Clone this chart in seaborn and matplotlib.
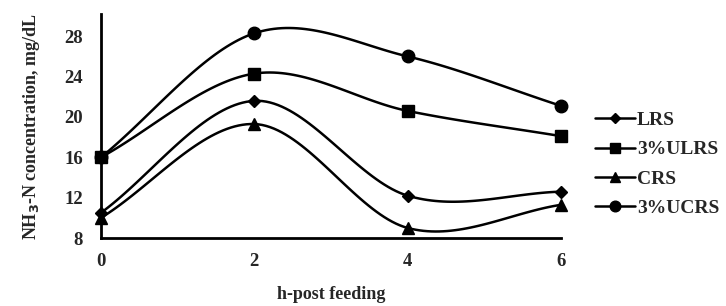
import numpy as np
import pandas as pd
import seaborn as sns
from matplotlib import pyplot as plt
from matplotlib.lines import Line2D

# values
hours = [0, 2, 4, 6]
lrs = [10.5, 21.6, 12.2, 12.6]
ulrs = [16.0, 24.3, 20.6, 18.1]
crs = [10.0, 19.3, 9.0, 11.3]
ucrs = [16.0, 28.3, 26.0, 21.1]
series = ['LRS', '3%ULRS', 'CRS', '3%UCRS']
markers = {'LRS': 'D', '3%ULRS': 's', 'CRS': '^', '3%UCRS': 'o'}
msizes = {'LRS': 6, '3%ULRS': 9, 'CRS': 9, '3%UCRS': 9}

df = pd.DataFrame({'h': hours * 4,
                   'value': lrs + ulrs + crs + ucrs,
                   'group': np.repeat(series, 4)})


# Excel-like smoothed line (Catmull-Rom through the points)
def smooth(x, y, n=40):
    x = np.asarray(x, float)
    y = np.asarray(y, float)
    px = np.concatenate([[2 * x[0] - x[1]], x, [2 * x[-1] - x[-2]]])
    py = np.concatenate([[2 * y[0] - y[1]], y, [2 * y[-1] - y[-2]]])
    xs, ys = [], []
    for i in range(1, len(px) - 2):
        t = np.linspace(0, 1, n)
        p0, p1, p2, p3 = px[i - 1:i + 3]
        q0, q1, q2, q3 = py[i - 1:i + 3]
        b1x, b1y = p1 + (p2 - p0) / 6, q1 + (q2 - q0) / 6
        b2x, b2y = p2 - (p3 - p1) / 6, q2 - (q3 - q1) / 6
        xs.append((1 - t) ** 3 * p1 + 3 * (1 - t) ** 2 * t * b1x + 3 * (1 - t) * t ** 2 * b2x + t ** 3 * p2)
        ys.append((1 - t) ** 3 * q1 + 3 * (1 - t) ** 2 * t * b1y + 3 * (1 - t) * t ** 2 * b2y + t ** 3 * q2)
    return np.concatenate(xs), np.concatenate(ys)


sns.set_style('white')
plt.rcParams['font.family'] = ['Liberation Serif', 'DejaVu Serif']
plt.rcParams['font.weight'] = 'bold'

fig = plt.figure(figsize=(7.26, 3.06), dpi=100)
ax = fig.add_axes([0.139, 0.222, 0.634, 0.732])

for name in series:
    sub = df[df['group'] == name]
    sx, sy = smooth(sub['h'], sub['value'])
    sns.lineplot(x=sx, y=sy, ax=ax, color='black', lw=1.8, sort=False)
    ax.plot(sub['h'], sub['value'], ls='none', marker=markers[name],
            ms=msizes[name], color='black', clip_on=False, zorder=5)

ax.set_xlim(0, 6)
ax.set_ylim(8, 30.2)
ax.set_xticks([0, 2, 4, 6])
ax.set_yticks([8, 12, 16, 20, 24, 28])
ax.tick_params(length=0, labelsize=13.5)
ax.tick_params(axis='x', pad=11)
ax.tick_params(axis='y', pad=13)
for lab in ax.get_xticklabels() + ax.get_yticklabels():
    lab.set_fontweight('bold')
sns.despine(ax=ax)
for s in ['left', 'bottom']:
    ax.spines[s].set_linewidth(2)
    ax.spines[s].set_color('black')

ax.set_xlabel('h-post feeding', fontsize=13, fontweight='bold', labelpad=11)
ax.set_ylabel('NH$_3$-N concentration, mg/dL', fontsize=13, fontweight='bold', labelpad=16)

handles = [Line2D([], [], color='black', lw=1.8, marker=markers[n],
                  ms=msizes[n] * 0.85) for n in series]
ax.legend(handles, series, loc='center left', bbox_to_anchor=(1.074, 0.33),
          frameon=False, handlelength=2.05, handletextpad=0.1,
          labelspacing=0.6, borderpad=0, borderaxespad=0,
          prop={'weight': 'bold', 'size': 14})

fig.savefig('out.png', dpi=100)
